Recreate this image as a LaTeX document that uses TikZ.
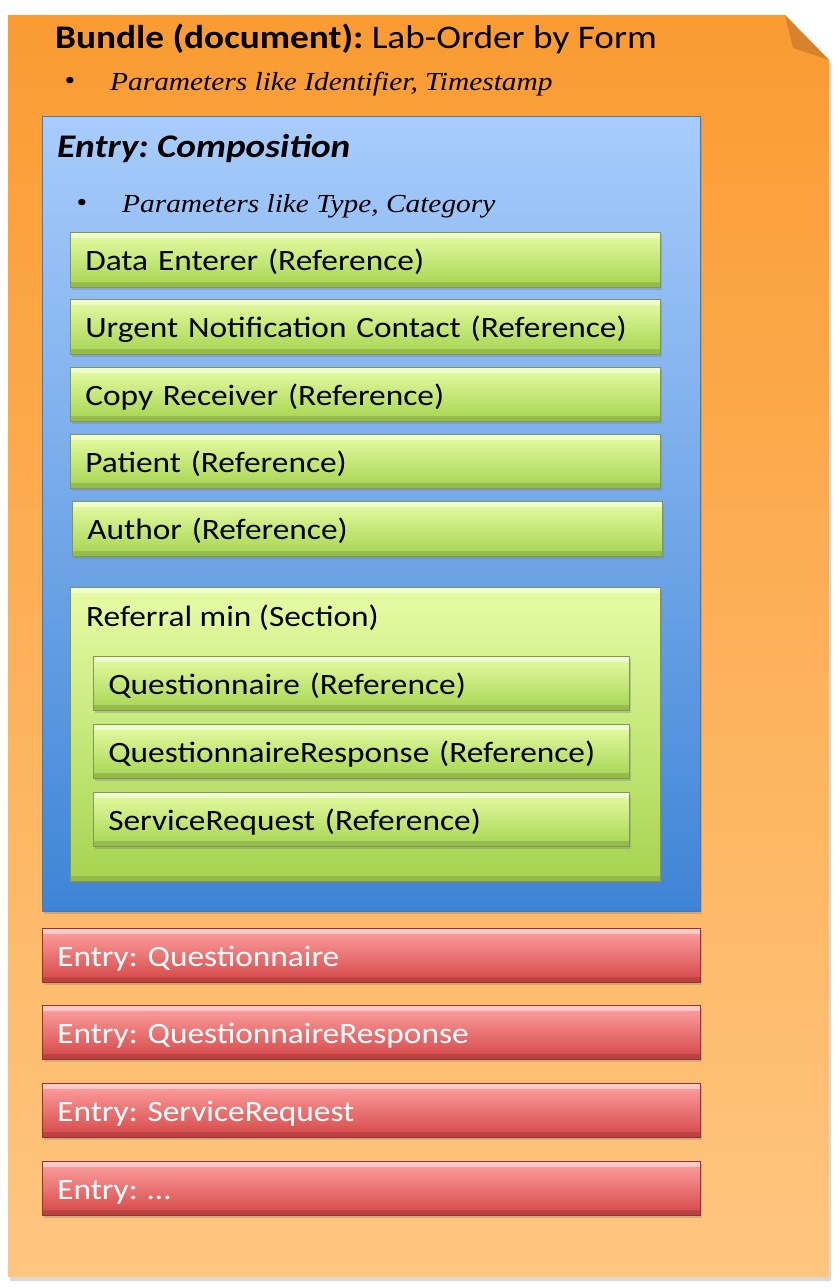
\documentclass[tikz,border=0pt]{standalone}
\usepackage{fontspec}
\setmainfont{Carlito}[FakeStretch=1.13]
\newfontfamily\serifit{Liberation Serif}[FakeStretch=1.13]
\usetikzlibrary{shadows}
\frenchspacing
\definecolor{orTop}{RGB}{250,155,50}
\definecolor{orBot}{RGB}{255,198,128}
\definecolor{orFold}{RGB}{215,130,45}
\definecolor{blTop}{RGB}{168,204,252}
\definecolor{blBot}{RGB}{62,132,214}
\definecolor{blLine}{RGB}{70,120,190}
\definecolor{grTop}{RGB}{230,252,165}
\definecolor{grBot}{RGB}{165,212,80}
\definecolor{grLine}{RGB}{130,150,90}
\definecolor{rdTop}{RGB}{255,162,162}
\definecolor{rdBot}{RGB}{212,70,70}
\definecolor{rdLine}{RGB}{150,50,50}
\begin{document}
\begin{tikzpicture}[x=1pt,y=-1pt,
  shad/.style={drop shadow={shadow xshift=1.5pt,shadow yshift=-3pt,opacity=0.35}},
  bevel/.style={path picture={
      \fill[white,opacity=0.45] ([yshift=-1pt]path picture bounding box.north west) rectangle ([yshift=-6pt]path picture bounding box.north east);
      \fill[black,opacity=0.12] ([yshift=5pt]path picture bounding box.south west) rectangle (path picture bounding box.south east);}},
  basebox/.style={shad, bevel, line width=0.6pt, anchor=north west, inner xsep=15pt, inner ysep=0pt, font=\fontsize{29.5}{34}\selectfont, text height=24pt, text depth=2pt, minimum height=55pt},
  gbox/.style={basebox, draw=grLine, top color=grTop, bottom color=grBot},
  rbox/.style={basebox, draw=rdLine, top color=rdTop, bottom color=rdBot, text=white},
  bluebox/.style={shad, draw=blLine, line width=0.8pt, top color=blTop, bottom color=blBot, anchor=north west, inner sep=0pt, minimum width=658pt, minimum height=795pt},
  bullet/.style={anchor=base west, inner sep=0pt, font=\serifit\itshape\fontsize{26}{30}\selectfont},
  dot/.style={anchor=base, inner sep=0pt, font=\serifit\fontsize{27}{30}\selectfont}
]
\useasboundingbox (0,0) rectangle (837,1288);
% page
\path[drop shadow={shadow xshift=2pt,shadow yshift=-4pt,opacity=0.3}, top color=orTop, bottom color=orBot]
  (8,15) -- (785,15) -- (829,60) -- (829,1277) -- (8,1277) -- cycle;
\fill[orFold] (785,15) -- (793,48) -- (829,60) -- cycle;
\node[anchor=base west, inner sep=0pt, font=\fontsize{33}{38}\selectfont] (title) at (55,48) {\textbf{Bundle (document):} Lab-Order by Form};
\node[dot] (b1) at (70,89) {•};
\node[bullet] (p1) at (110,90) {Parameters like Identifier, Timestamp};
% composition
\node[bluebox] (comp) at (42,116) {};
\node[anchor=base west, inner sep=0pt, font=\bfseries\itshape\fontsize{33}{38}\selectfont] (comptitle) at (57,157) {Entry: Composition};
\node[dot] (b2) at (82,211) {•};
\node[bullet] (p2) at (122,212) {Parameters like Type, Category};
\node[gbox, text width=560pt] (de) at (70,232) {Data Enterer (Reference)};
\node[gbox, text width=560pt] (un) at (70,299) {Urgent Notification Contact (Reference)};
\node[gbox, text width=560pt, minimum height=54pt] (cr) at (70,367) {Copy Receiver (Reference)};
\node[gbox, text width=560pt, minimum height=54pt] (pa) at (70,434) {Patient (Reference)};
\node[gbox, text width=560pt] (au) at (72,501) {Author (Reference)};
\node[gbox, text width=560pt, minimum height=294pt] (ref) at (70,587) {};
\node[anchor=base west, inner sep=0pt, font=\fontsize{29.5}{34}\selectfont] (reft) at (86,626) {Referral min (Section)};
\node[gbox, text width=506pt, minimum height=54pt] (q) at (93,656) {Questionnaire (Reference)};
\node[gbox, text width=506pt, minimum height=54pt] (qr) at (93,724) {QuestionnaireResponse (Reference)};
\node[gbox, text width=506pt, minimum height=54pt] (sr) at (93,792) {ServiceRequest (Reference)};
% entries
\node[rbox, text width=628pt, minimum height=54pt] (e1) at (42,928) {Entry: Questionnaire};
\node[rbox, text width=628pt, minimum height=54pt] (e2) at (42,1005) {Entry: QuestionnaireResponse};
\node[rbox, text width=628pt, minimum height=54pt] (e3) at (42,1083) {Entry: ServiceRequest};
\node[rbox, text width=628pt, minimum height=54pt] (e4) at (42,1161) {Entry: …};
\end{tikzpicture}
\end{document}
